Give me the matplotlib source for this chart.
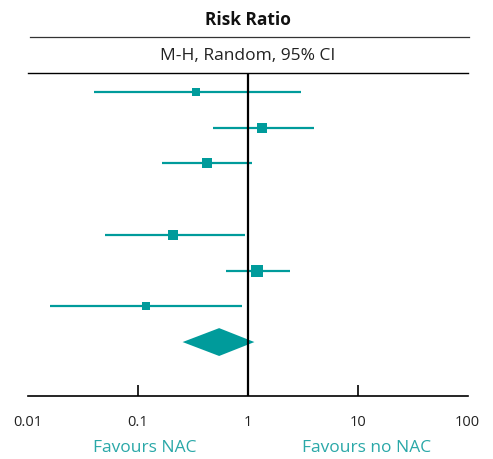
import numpy as np
import matplotlib
matplotlib.use("Agg")
import matplotlib.pyplot as plt
from matplotlib.patches import Polygon
from matplotlib.lines import Line2D

plt.rcParams['font.family'] = ['Open Sans', 'DejaVu Sans']

# study estimates (risk ratio with 95% CI); row 4 has no estimable result
rr = [0.34, 1.35, 0.43, np.nan, 0.21, 1.21, 0.118]
ci_low = [0.040, 0.48, 0.167, np.nan, 0.050, 0.63, 0.0158]
ci_high = [3.02, 3.99, 1.09, np.nan, 0.945, 2.40, 0.887]
weights = [8, 15, 15, 0, 12, 20, 9]
pooled = (0.55, 0.256, 1.15)  # estimate, lower, upper
tick_vals = [0.01, 0.1, 1, 10, 100]
tick_labels = ['0.01', '0.1', '1', '10', '100']

teal = '#009b9b'
W, H = 493, 460

fig = plt.figure(figsize=(W / 100, H / 100), dpi=100)
ax = fig.add_axes([27.7 / W, (H - 397) / H, 440 / W, (397 - 74) / H])

rows = np.arange(1, len(rr) + 1)
for y, est, lo, hi, w in zip(rows, rr, ci_low, ci_high, weights):
    if np.isnan(est):
        continue
    ax.plot([lo, hi], [y, y], color=teal, lw=1.6, solid_capstyle='butt', zorder=2)
    ax.plot(est, y, marker='s', color=teal, markersize=1.9 * np.sqrt(w),
            markeredgewidth=0, zorder=3)

# pooled diamond
est, lo, hi = pooled
yd = len(rr) + 1
diamond = Polygon([[lo, yd], [est, yd - 0.39], [hi, yd], [est, yd + 0.39]],
                  closed=True, facecolor=teal, edgecolor='none', zorder=3)
ax.add_patch(diamond)

# line of no effect
ax.axvline(1, color='black', lw=1.6, zorder=4)

ax.set_xscale('log')
ax.set_xlim(0.01, 100)
ax.set_ylim(9.51, 0.47)
ax.set_yticks([])
ax.minorticks_off()
ax.set_xticks(tick_vals)
ax.set_xticklabels(tick_labels, fontsize=10.5, color='#222222')
ax.tick_params(axis='x', direction='in', length=8, width=1.2, pad=13)
for i, t in enumerate(ax.xaxis.get_major_ticks()):
    if i in (0, 2, 4):
        t.tick1line.set_visible(False)

for s in ['left', 'right']:
    ax.spines[s].set_visible(False)
ax.spines['bottom'].set_linewidth(1.2)
ax.spines['top'].set_linewidth(1.0)

# header
fig.add_artist(Line2D([30 / W, 469 / W], [(H - 38) / H, (H - 38) / H],
                      color='#333333', lw=0.9))
fig.text(248 / W, (H - 20) / H, 'Risk Ratio', ha='center', va='center',
         fontsize=12.5, fontweight='bold', color='#111111')
fig.text(248 / W, (H - 56) / H, 'M-H, Random, 95% CI', ha='center', va='center',
         fontsize=12.5, color='#222222')

# favours labels
fig.text(145 / W, (H - 448) / H, 'Favours NAC', ha='center', va='center',
         fontsize=12.5, color='#2aa8a8')
fig.text(367 / W, (H - 448) / H, 'Favours no NAC', ha='center', va='center',
         fontsize=12.5, color='#2aa8a8')

fig.savefig('out.png', dpi=100)
